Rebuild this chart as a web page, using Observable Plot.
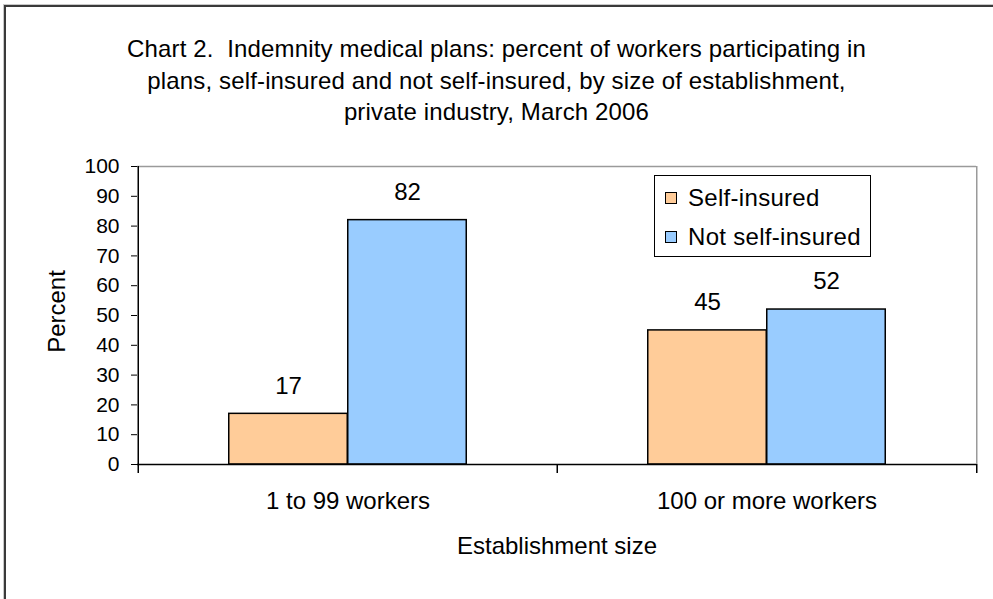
<!DOCTYPE html>
<html>
<head>
<meta charset="utf-8">
<script src="https://cdn.jsdelivr.net/npm/d3@7"></script>
<script src="https://cdn.jsdelivr.net/npm/@observablehq/plot@0.6"></script>
<style>
  html, body { margin: 0; padding: 0; background: #fff; }
  body { font-family: "Liberation Sans", Arial, sans-serif; color: #000; }
  #wrap { position: relative; width: 993px; height: 599px; overflow: hidden; background: #fff; }
  #chart { position: absolute; left: 0; top: 0; }
  #frameOuter { position: absolute; left: 3px; top: 4px; right: -20px; bottom: -20px;
    border-left: 1px solid #c8c8c8; border-top: 1px solid #c8c8c8; }
  #frameInner { position: absolute; left: 4px; top: 5px; right: -20px; bottom: -20px;
    border-left: 2px solid #3a3a3a; border-top: 2px solid #3a3a3a; }
  #title { position: absolute; left: 0; top: 33px; width: 993px; text-align: center;
    font-size: 24px; line-height: 31.5px; letter-spacing: 0.15px; white-space: pre; }
  #legend { position: absolute; left: 654px; top: 175px; width: 215px; height: 80px;
    border: 1px solid #000; background: #fff; }
  .sw { position: absolute; left: 10px; width: 10px; height: 10px; border: 1px solid #000; }
  .lt { position: absolute; left: 33px; font-size: 24px; line-height: 24px; height: 24px; white-space: nowrap; letter-spacing: 0.3px; }
</style>
</head>
<body>
<div id="wrap">
  <div id="chart"></div>
  <div id="frameOuter"></div>
  <div id="frameInner"></div>
  <div id="title"></div>
  <div id="legend"></div>
</div>
<script>
// ---- data ----
const titleLines = [
  "Chart 2.  Indemnity medical plans: percent of workers participating in",
  "plans, self-insured and not self-insured, by size of establishment,",
  "private industry, March 2006"
];
const categories = ["1 to 99 workers", "100 or more workers"];
const seriesNames = ["Self-insured", "Not self-insured"];
const selfInsured = [17, 45];
const notSelfInsured = [82, 52];
const yTicks = [0, 10, 20, 30, 40, 50, 60, 70, 80, 90, 100];
const xTitle = "Establishment size";
const yTitle = "Percent";
const colors = ["#FFCC99", "#99CCFF"];

// ---- layout ----
const W = 993, H = 599;
const mL = 137, mR = 17, mT = 166, mB = 135;
const bw = (W - mL - mR) / categories.length;
const outer = 90.75;
const barW = bw / 2 - outer;
const FONT = '"Liberation Sans", Arial, sans-serif';

const rowsSelf = categories.map((c, i) => ({category: c, value: selfInsured[i]}));
const rowsNot = categories.map((c, i) => ({category: c, value: notSelfInsured[i]}));
const lastCat = categories[categories.length - 1];

const chart = Plot.plot({
  width: W,
  height: H,
  marginLeft: mL,
  marginRight: mR,
  marginTop: mT,
  marginBottom: mB,
  style: {fontFamily: FONT, fontSize: "21px", background: "transparent", color: "#000", overflow: "visible"},
  x: {domain: categories, padding: 0, axis: null},
  y: {domain: [0, 100], ticks: yTicks, tickSize: 6, tickPadding: 12, label: null},
  marks: [
    Plot.ruleY([100], {stroke: "#9a9a9a", strokeWidth: 1.5}),
    Plot.ruleX([lastCat], {dx: bw / 2, stroke: "#9a9a9a", strokeWidth: 1.5}),
    Plot.barY(rowsSelf, {x: "category", y: "value", fill: colors[0], stroke: "#000", strokeWidth: 1.5,
      insetLeft: outer, insetRight: bw / 2}),
    Plot.barY(rowsNot, {x: "category", y: "value", fill: colors[1], stroke: "#000", strokeWidth: 1.5,
      insetLeft: bw / 2, insetRight: outer}),
    Plot.ruleY([0], {stroke: "#000", strokeWidth: 1.5}),
    Plot.ruleX([categories[0]], {dx: -bw / 2, stroke: "#000", strokeWidth: 1.5}),
    Plot.ruleX(categories, {x: d => d, dx: -bw / 2, y1: 0, y2: 0, insetBottom: -9, stroke: "#000", strokeWidth: 1.5}),
    Plot.ruleX([lastCat], {x: d => d, dx: bw / 2, y1: 0, y2: 0, insetBottom: -9, stroke: "#000", strokeWidth: 1.5}),
    Plot.text(rowsSelf, {x: "category", y: "value", text: d => String(d.value), dx: -barW / 2, dy: -28,
      fontSize: 24, fill: "#000"}),
    Plot.text(rowsNot, {x: "category", y: "value", text: d => String(d.value), dx: barW / 2, dy: -28,
      fontSize: 24, fill: "#000"}),
    Plot.text(categories, {x: d => d, frameAnchor: "bottom", lineAnchor: "middle", dy: 37, fontSize: 24, fill: "#000"}),
    Plot.text([xTitle], {frameAnchor: "bottom", lineAnchor: "middle", textAnchor: "middle", dy: 82, fontSize: 24, fill: "#000"}),
    Plot.text([yTitle], {frameAnchor: "left", lineAnchor: "middle", textAnchor: "middle", dx: -80, dy: -4, rotate: -90, fontSize: 24, fill: "#000"})
  ]
});
document.getElementById("chart").appendChild(chart);

// ---- title ----
const t = document.getElementById("title");
titleLines.forEach(line => {
  const d = document.createElement("div");
  d.textContent = line;
  t.appendChild(d);
});

// ---- legend ----
const lg = document.getElementById("legend");
const rowTops = [10, 49];
seriesNames.forEach((name, i) => {
  const sw = document.createElement("div");
  sw.className = "sw";
  sw.style.background = colors[i];
  sw.style.top = (rowTops[i] + 5.5) + "px";
  lg.appendChild(sw);
  const tx = document.createElement("div");
  tx.className = "lt";
  tx.style.top = rowTops[i] + "px";
  tx.textContent = name;
  lg.appendChild(tx);
});
</script>
</body>
</html>
